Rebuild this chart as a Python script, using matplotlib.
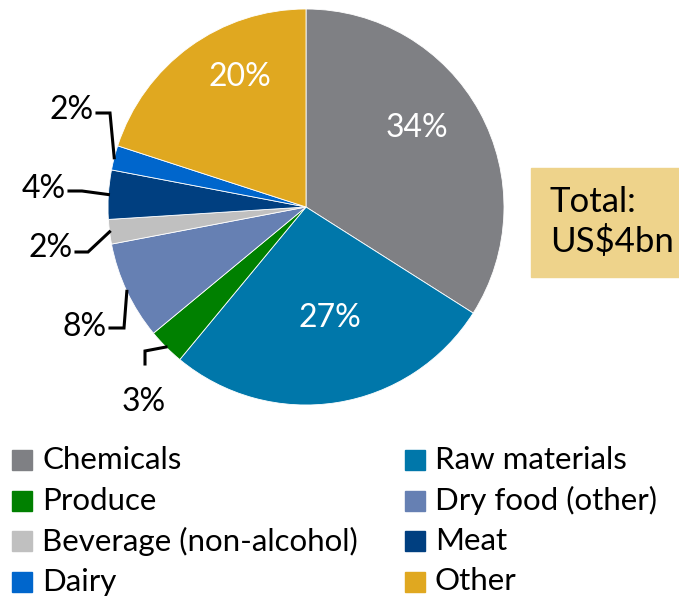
import matplotlib
matplotlib.use("Agg")
import matplotlib.pyplot as plt
from matplotlib.patches import Rectangle
import numpy as np

plt.rcParams['font.family'] = ['Lato', 'DejaVu Sans']

categories = ['Chemicals', 'Raw materials', 'Produce', 'Dry food (other)',
              'Beverage (non-alcohol)', 'Meat', 'Dairy', 'Other']
shares = [34, 27, 3, 8, 2, 4, 2, 20]
colors = ['#7F8084', '#0077AA', '#008000', '#6680B3',
          '#C0C0C0', '#003F80', '#0066CC', '#E0A820']
total_text = 'Total:\nUS$4bn'

W, H = 679, 597
fig = plt.figure(figsize=(W / 100, H / 100), dpi=100)
ax = fig.add_axes([0, 0, 1, 1])

def Y(y):
    # pixel row (from top) -> data y
    return H - y

cx, cy, r = 306, 207, 198
wedges, _ = ax.pie(shares, colors=colors, startangle=90, counterclock=False,
                   center=(cx, Y(cy)), radius=r, frame=True,
                   wedgeprops=dict(edgecolor='white', linewidth=0.6))
ax.set_xlim(0, W)
ax.set_ylim(0, H)
ax.set_aspect('equal')
ax.axis('off')

# labels inside the big slices
inner = {0: (417, 128), 1: (330, 318), 7: (240, 77)}
for i, (x, y) in inner.items():
    ax.text(x, Y(y), f'{shares[i]}%', color='white', fontsize=23,
            ha='center', va='center')

# outer labels with leader lines: text pos, elbow, start of horizontal
outer = {
    6: dict(text=(72, 110), elbow=(110, 113), start=(97, 113)),
    5: dict(text=(44, 189), elbow=(82, 191), start=(69, 191)),
    4: dict(text=(51, 248), elbow=(88, 252), start=(76, 252)),
    3: dict(text=(85, 327), elbow=(124, 328), start=(110, 328)),
    2: dict(text=(144, 402), elbow=(145, 351), start=(145, 364)),
}
for i, o in outer.items():
    frac = (sum(shares[:i]) + shares[i] / 2) / sum(shares)
    ang = np.deg2rad(90 - 360 * frac)
    ex = cx + r * np.cos(ang)
    ey = Y(cy) + r * np.sin(ang)
    xs = [o['start'][0], o['elbow'][0], ex]
    ys = [Y(o['start'][1]), Y(o['elbow'][1]), ey]
    ax.plot(xs, ys, color='black', lw=2.2, solid_joinstyle='miter')
    ax.text(o['text'][0], Y(o['text'][1]), f'{shares[i]}%', fontsize=23,
            ha='center', va='center')

# total box
ax.add_patch(Rectangle((531, Y(277)), W - 531, 277 - 168, color='#EED38B'))
ax.text(550, Y(222), total_text, fontsize=25, ha='left', va='center',
        linespacing=1.25)

# legend, row-major in two columns
for i, (name, col) in enumerate(zip(categories, colors)):
    row, c = i // 2, i % 2
    x0 = 12 if c == 0 else 405
    yc = 460 + row * 40.5
    ax.add_patch(Rectangle((x0, Y(yc + 10)), 20, 20, color=col))
    ax.text(x0 + 30, Y(yc), name, fontsize=22.5, ha='left', va='center')

fig.savefig('out.png', dpi=100)
